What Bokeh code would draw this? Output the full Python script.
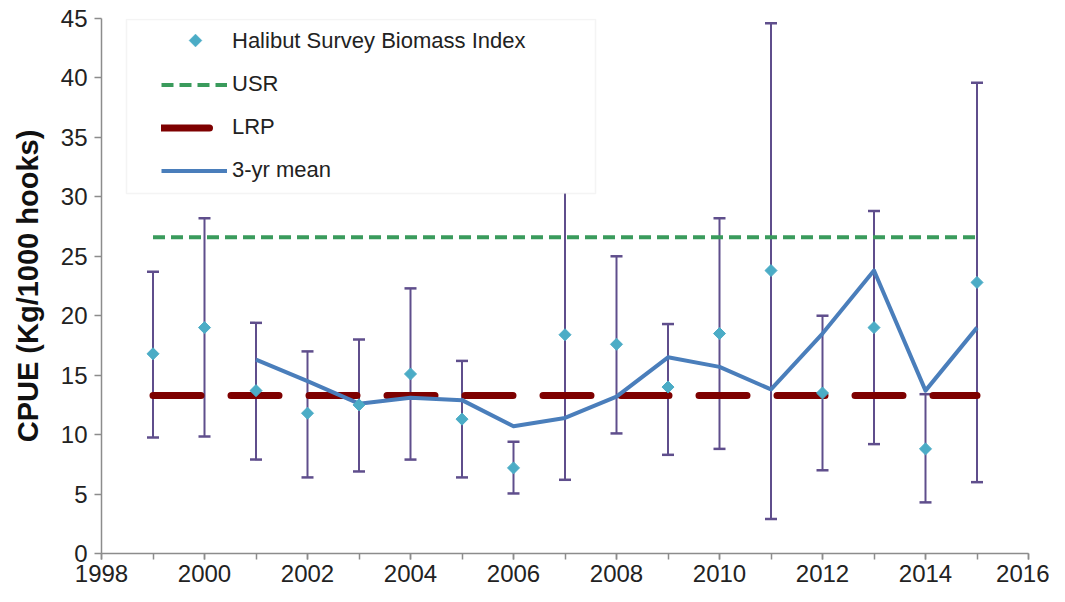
import math
from bokeh.plotting import figure
from bokeh.models import (Legend, LegendItem, BoxAnnotation, PolyAnnotation,
                          SingleIntervalTicker)
from bokeh.embed import file_html
from bokeh.resources import INLINE

# ---- data ----
years = [1999, 2000, 2001, 2002, 2003, 2004, 2005, 2006, 2007, 2008,
         2009, 2010, 2011, 2012, 2013, 2014, 2015]
biomass_index = [16.8, 19.0, 13.7, 11.8, 12.5, 15.1, 11.3, 7.2, 18.4, 17.6,
                 14.0, 18.5, 23.8, 13.5, 19.0, 8.8, 22.8]
index_upper = [23.7, 28.2, 19.4, 17.0, 18.0, 22.3, 16.2, 9.4, 31.0, 25.0,
               19.3, 28.2, 44.6, 20.0, 28.8, 13.4, 39.6]
index_lower = [9.75, 9.85, 7.9, 6.4, 6.9, 7.9, 6.4, 5.05, 6.2, 10.1,
               8.3, 8.8, 2.9, 7.0, 9.2, 4.3, 6.0]
mean_years = [2001, 2002, 2003, 2004, 2005, 2006, 2007, 2008,
              2009, 2010, 2011, 2012, 2013, 2014, 2015]
mean_3yr = [16.3, 14.5, 12.6, 13.1, 12.9, 10.7, 11.4, 13.2,
            16.5, 15.7, 13.8, 18.5, 23.8, 13.7, 19.0]
USR = 26.6
LRP = 13.3
usr_line = [USR] * len(years)
lrp_line = [LRP] * len(years)

FONT = "Liberation Sans"
C_IDX = "#4BACC6"
C_ERR = "#5F4E8C"

p = figure(width=1049, height=586, x_range=(1998, 2016), y_range=(0, 45),
           output_backend="svg", toolbar_location=None,
           min_border_left=101, min_border_right=21,
           min_border_top=18, min_border_bottom=33)
p.outline_line_color = None
p.xgrid.visible = False
p.ygrid.visible = False

# error bars
p.segment(x0=years, y0=index_lower, x1=years, y1=index_upper,
          line_color=C_ERR, line_width=2)
p.scatter(years, index_upper, marker="dash", size=12,
          line_color=C_ERR, line_width=2.5)
p.scatter(years, index_lower, marker="dash", size=12,
          line_color=C_ERR, line_width=2.5)

r_usr = p.line(years, usr_line, line_color="#3A9B5C", line_width=4,
               line_dash="12 6")
r_lrp = p.line(years, lrp_line, line_color="#7E0000", line_width=7,
               line_dash="48 30", line_cap="round")
r_mean = p.line(mean_years, mean_3yr, line_color="#4A7EBB", line_width=4,
                line_join="round")
p.scatter(years, biomass_index, marker="square", size=8.5,
          angle=math.pi / 4, fill_color=C_IDX, line_color=C_IDX)
# legend-only stand-in for the diamond series (symbol drawn below)
r_idx_key = p.scatter(x=[], y=[], marker="square", size=1,
                      fill_alpha=0, line_alpha=0)

# axes
for ax in (p.xaxis, p.yaxis):
    ax.axis_line_color = "#8C8C8C"
    ax.axis_line_width = 1.5
    ax.major_tick_line_color = "#8C8C8C"
    ax.major_tick_line_width = 1.5
    ax.minor_tick_line_color = "#8C8C8C"
    ax.minor_tick_line_width = 1.5
    ax.major_tick_in = 0
    ax.minor_tick_in = 0
    ax.major_label_text_font = FONT
    ax.major_label_text_font_size = "24px"
    ax.major_label_text_color = "#222222"

p.xaxis.ticker = SingleIntervalTicker(interval=2, num_minor_ticks=2)
p.xaxis.major_tick_out = 6
p.xaxis.minor_tick_out = 6
p.xaxis.major_label_standoff = 5

p.yaxis.ticker = SingleIntervalTicker(interval=5, num_minor_ticks=0)
p.yaxis.minor_tick_line_color = None
p.yaxis.major_tick_out = 7
p.yaxis.major_label_standoff = 7
p.yaxis.axis_label = "CPUE (Kg/1000 hooks)"
p.yaxis.axis_label_text_font = FONT
p.yaxis.axis_label_text_font_style = "bold"
p.yaxis.axis_label_text_font_size = "29px"
p.yaxis.axis_label_text_color = "#111111"
p.yaxis.axis_label_standoff = 14

# legend frame (screen px from the frame's bottom-left)
frame_box = BoxAnnotation(left=25, right=494, bottom=360, top=534,
                          left_units="screen", right_units="screen",
                          top_units="screen", bottom_units="screen",
                          fill_color="white", fill_alpha=1.0,
                          line_color="#D9D9D9", line_width=1.5)
p.add_layout(frame_box)

legend = Legend(items=[
    LegendItem(label="Halibut Survey Biomass Index", renderers=[r_idx_key]),
    LegendItem(label="USR", renderers=[r_usr]),
    LegendItem(label="LRP", renderers=[r_lrp]),
    LegendItem(label="3-yr mean", renderers=[r_mean]),
], location=(60, 368), orientation="vertical",
    border_line_color=None, background_fill_alpha=0,
    padding=7, margin=0, spacing=13,
    glyph_width=66, glyph_height=21, label_height=30, label_standoff=5,
    label_text_font=FONT, label_text_font_size="22px",
    label_text_color="#222222")
p.add_layout(legend)

# diamond key symbol for the first legend entry
key_cx, key_cy, key_r = 94, 513, 6.5
key = PolyAnnotation(xs=[key_cx - key_r, key_cx, key_cx + key_r, key_cx],
                     ys=[key_cy, key_cy + key_r, key_cy, key_cy - key_r],
                     xs_units="screen", ys_units="screen",
                     fill_color=C_IDX, fill_alpha=1.0, line_color=C_IDX)
p.add_layout(key)

open("out.html", "w").write(file_html(p, INLINE))
